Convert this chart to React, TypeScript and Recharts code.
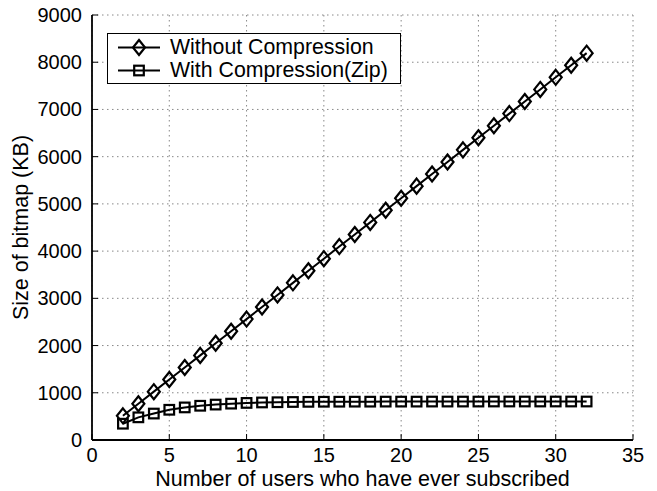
import React from 'react';
import { LineChart, Line, XAxis, YAxis, CartesianGrid, Legend, Label } from 'recharts';

const users = [2, 3, 4, 5, 6, 7, 8, 9, 10, 11, 12, 13, 14, 15, 16, 17, 18, 19, 20, 21, 22, 23, 24, 25, 26, 27, 28, 29, 30, 31, 32];
const withoutCompression = [512, 768, 1024, 1280, 1536, 1792, 2048, 2304, 2560, 2816, 3072, 3328, 3584, 3840, 4096, 4352, 4608, 4864, 5120, 5376, 5632, 5888, 6144, 6400, 6656, 6912, 7168, 7424, 7680, 7936, 8192];
const withCompression = [345, 480, 560, 640, 690, 725, 750, 770, 785, 795, 800, 805, 808, 810, 811, 812, 812, 813, 813, 813, 814, 814, 814, 814, 815, 815, 815, 815, 815, 815, 815];
const xTicks = [0, 5, 10, 15, 20, 25, 30, 35];
const yTicks = [0, 1000, 2000, 3000, 4000, 5000, 6000, 7000, 8000, 9000];
const seriesNames = ['Without Compression', 'With Compression(Zip)'];
const xTitle = 'Number of users who have ever subscribed';
const yTitle = 'Size of bitmap (KB)';

const data = users.map((u, i) => ({ users: u, without: withoutCompression[i], zip: withCompression[i] }));

const FONT = '"Liberation Sans", Arial, Helvetica, sans-serif';
const FS = 20;
const FS_LEG = 21.3;
const FS_TITLE = 21.5;
const W = 657;
const H = 491;
const TL = 6;

const Diamond = ({ cx, cy }: any) => (
  <path d={`M${cx},${cy - 7.5} L${cx + 6},${cy} L${cx},${cy + 7.5} L${cx - 6},${cy} Z`} fill="none" stroke="#000" strokeWidth={2.2} />
);
const Square = ({ cx, cy }: any) => (
  <rect x={cx - 4.8} y={cy - 4.8} width={9.6} height={9.6} fill="none" stroke="#000" strokeWidth={2.2} />
);

const BottomTick = (p: any) => (
  <g>
    <line x1={p.x} x2={p.x} y1={p.y} y2={p.y - TL} stroke="#000" strokeWidth={1} />
    <text x={p.x} y={p.y + 21.5} textAnchor="middle" fontFamily={FONT} fontSize={FS} fill="#000">{p.payload.value}</text>
  </g>
);
const TopTick = (p: any) => (
  <line x1={p.x} x2={p.x} y1={p.y} y2={p.y + TL} stroke="#000" strokeWidth={1} />
);
const LeftTick = (p: any) => (
  <g>
    <line x1={p.x} x2={p.x + TL} y1={p.y} y2={p.y} stroke="#000" strokeWidth={1} />
    <text x={p.x - 10} y={p.y + 7} textAnchor="end" fontFamily={FONT} fontSize={FS} fill="#000">{p.payload.value}</text>
  </g>
);
const RightTick = (p: any) => (
  <line x1={p.x} x2={p.x - TL} y1={p.y} y2={p.y} stroke="#000" strokeWidth={1} />
);

const LegendBox = () => (
  <div style={{ width: 294, height: 51, boxSizing: 'border-box', border: '1.5px solid #000', background: '#fff', fontFamily: FONT, fontSize: FS_LEG, color: '#000', paddingTop: 2 }}>
    {seriesNames.map((name, i) => (
      <div key={name} style={{ display: 'flex', alignItems: 'center', height: 23 }}>
        <svg width={62} height={23} style={{ display: 'block' }}>
          <line x1={10} x2={52} y1={11.5} y2={11.5} stroke="#000" strokeWidth={2} />
          {i === 0 ? <Diamond cx={31} cy={11.5} /> : <Square cx={31} cy={11.5} />}
        </svg>
        <span style={{ lineHeight: '23px', whiteSpace: 'nowrap' }}>{name}</span>
      </div>
    ))}
  </div>
);

export default function App() {
  return (
    <div style={{ position: 'absolute', left: 0, top: 0, width: W, height: H, background: '#fff' }}>
      <LineChart width={W} height={H} data={data} margin={{ top: 15, right: 24, bottom: 0, left: 0 }}>
        <CartesianGrid stroke="#888" strokeDasharray="1.5 3.5" strokeWidth={1} />
        <XAxis dataKey="users" type="number" domain={[0, 35]} ticks={xTicks} interval={0} height={51}
          axisLine={{ stroke: '#000', strokeWidth: 1.8 }} tickLine={false} tickSize={0} tickMargin={0} tick={BottomTick}>
          <Label content={(p: any) => {
            const vb = p.viewBox;
            return <text x={vb.x + vb.width / 2} y={vb.y + 46.3} textAnchor="middle" fontFamily={FONT} fontSize={FS_TITLE} fill="#000">{xTitle}</text>;
          }} />
        </XAxis>
        <XAxis xAxisId="top" orientation="top" dataKey="users" type="number" domain={[0, 35]} ticks={xTicks} interval={0} height={0}
          allowDataOverflow axisLine={{ stroke: '#000', strokeWidth: 1.8 }} tickLine={false} tickSize={0} tickMargin={0} tick={TopTick} />
        <YAxis type="number" domain={[0, 9000]} ticks={yTicks} interval={0} width={92}
          axisLine={{ stroke: '#000', strokeWidth: 1.8 }} tickLine={false} tickSize={0} tickMargin={0} tick={LeftTick}>
          <Label content={(p: any) => {
            const vb = p.viewBox;
            const cy = vb.y + vb.height / 2;
            return <text x={21} y={cy} transform={`rotate(-90, 21, ${cy})`} textAnchor="middle" dominantBaseline="central" fontFamily={FONT} fontSize={FS_TITLE} fill="#000">{yTitle}</text>;
          }} />
        </YAxis>
        <YAxis yAxisId="right" orientation="right" type="number" domain={[0, 9000]} ticks={yTicks} interval={0} width={0}
          allowDataOverflow axisLine={{ stroke: '#000', strokeWidth: 1.8 }} tickLine={false} tickSize={0} tickMargin={0} tick={RightTick} />
        <Legend layout="vertical" align="center" verticalAlign="middle" content={LegendBox}
          wrapperStyle={{ left: 107, top: 33, width: 294, height: 51 }} />
        <Line dataKey="without" name={seriesNames[0]} stroke="#000" strokeWidth={2} isAnimationActive={false} activeDot={false}
          dot={(p: any) => <Diamond key={`d${p.index}`} cx={p.cx} cy={p.cy} />} />
        <Line dataKey="zip" name={seriesNames[1]} stroke="#000" strokeWidth={2} isAnimationActive={false} activeDot={false}
          dot={(p: any) => <Square key={`s${p.index}`} cx={p.cx} cy={p.cy} />} />
      </LineChart>
    </div>
  );
}
